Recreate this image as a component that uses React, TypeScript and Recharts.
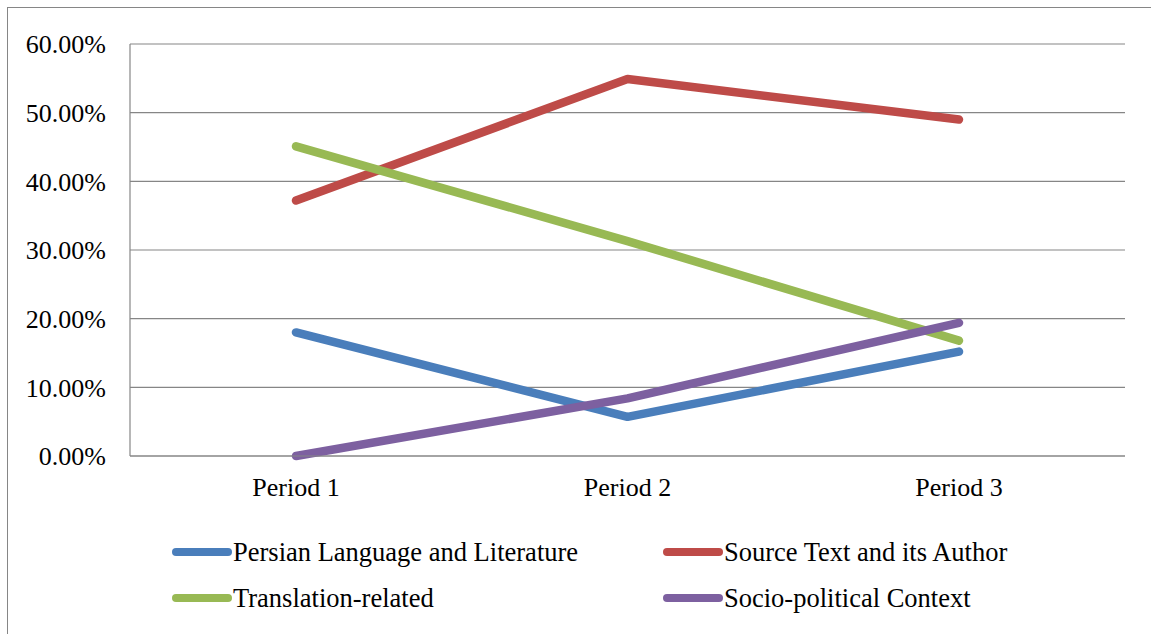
import React from "react";
import { LineChart, Line, XAxis, YAxis, CartesianGrid, Legend } from "recharts";

const periods = ["Period 1", "Period 2", "Period 3"];
const persian = [0.18, 0.057, 0.152];
const source = [0.372, 0.549, 0.49];
const translation = [0.451, 0.313, 0.168];
const socio = [0.0, 0.084, 0.194];
const yTicks = [0, 0.1, 0.2, 0.3, 0.4, 0.5, 0.6];

const seriesNames = [
  "Persian Language and Literature",
  "Source Text and its Author",
  "Translation-related",
  "Socio-political Context",
];
const seriesColors = ["#4A7EBB", "#BE4B48", "#98B954", "#7D60A0"];
const seriesKeys = ["persian", "source", "translation", "socio"];

const data = periods.map((p, i) => ({
  period: p,
  persian: persian[i],
  source: source[i],
  translation: translation[i],
  socio: socio[i],
}));

const FONT = "Liberation Serif, Times New Roman, Times, Tinos, DejaVu Serif, serif";

const LegendContent = () => {
  const colX = [172, 663];
  const rowY = [46, 92];
  return (
    <div style={{ position: "relative", width: 1151, height: 120 }}>
      {seriesNames.map((name, i) => {
        const x = colX[i % 2];
        const y = rowY[Math.floor(i / 2)];
        return (
          <div
            key={name}
            style={{
              position: "absolute",
              left: x,
              top: y - 18,
              height: 36,
              display: "flex",
              alignItems: "center",
              whiteSpace: "nowrap",
            }}
          >
            <span
              style={{
                display: "inline-block",
                width: 60,
                height: 8,
                borderRadius: 4,
                background: seriesColors[i],
                marginRight: 1,
              }}
            />
            <span style={{ fontFamily: FONT, fontSize: 26.5, color: "#000" }}>{name}</span>
          </div>
        );
      })}
    </div>
  );
};

export default function App() {
  return (
    <div style={{ position: "relative", width: 1151, height: 634, overflow: "hidden", background: "#fff" }}>
      <style>{"body{margin:0}"}</style>
      <div
        style={{
          position: "absolute",
          left: 7,
          top: 7,
          width: 1200,
          height: 700,
          borderLeft: "1px solid #868686",
          borderTop: "1px solid #868686",
        }}
      />
      <div style={{ position: "absolute", left: 0, top: 0 }}>
        <LineChart
          width={1151}
          height={634}
          data={data}
          margin={{ top: 44, right: 26, bottom: 8, left: 25 }}
        >
          <CartesianGrid horizontal vertical={false} stroke="#868686" strokeWidth={1.2} />
          <XAxis
            dataKey="period"
            height={50}
            padding={{ left: 166, right: 166 }}
            tickLine={false}
            tickSize={0}
            tickMargin={22}
            axisLine={{ stroke: "#868686", strokeWidth: 1.2 }}
            tick={{ fill: "#000", fontFamily: FONT, fontSize: 26 }}
            interval={0}
          />
          <YAxis
            width={105}
            domain={[0, 0.6]}
            ticks={yTicks}
            tickLine={false}
            tickSize={0}
            tickMargin={24}
            axisLine={{ stroke: "#868686", strokeWidth: 1.2 }}
            tick={{ fill: "#000", fontFamily: FONT, fontSize: 26 }}
            tickFormatter={(v: number) => (v * 100).toFixed(2) + "%"}
          />
          <Legend
            verticalAlign="bottom"
            height={120}
            content={LegendContent}
            wrapperStyle={{ left: 0, top: 506, width: 1151, height: 120 }}
          />
          {seriesKeys.map((k, i) => (
            <Line
              key={k}
              type="linear"
              dataKey={k}
              name={seriesNames[i]}
              stroke={seriesColors[i]}
              strokeWidth={8.5}
              strokeLinecap="round"
              strokeLinejoin="round"
              dot={false}
              activeDot={false}
              isAnimationActive={false}
            />
          ))}
        </LineChart>
      </div>
    </div>
  );
}
